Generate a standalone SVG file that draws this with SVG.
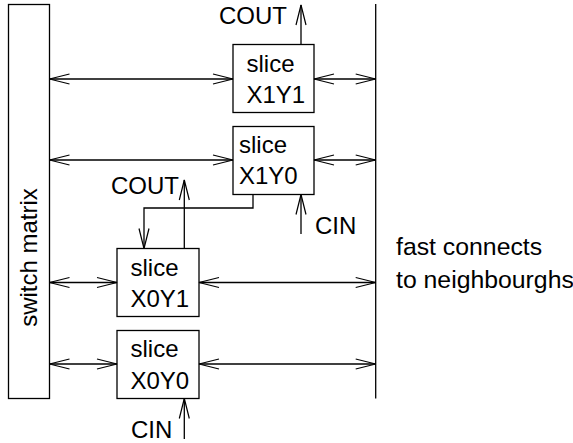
<svg xmlns="http://www.w3.org/2000/svg" width="573" height="443" viewBox="0 0 573 443">
<defs>
<marker id="ah" markerUnits="userSpaceOnUse" markerWidth="24" markerHeight="14" viewBox="-22 -7 24 14" refX="0" refY="0" orient="auto-start-reverse">
<path d="M -20 -5 L 0 0 L -20 5" fill="none" stroke="#000" stroke-width="1.2"/>
</marker>
</defs>
<style>
.box{fill:#fff;stroke:#000;stroke-width:1.3}
.ln{fill:none;stroke:#000;stroke-width:1.3}
.bi{marker-start:url(#ah);marker-end:url(#ah)}
.one{marker-end:url(#ah)}
text{font-family:"Liberation Sans",Arial,sans-serif;font-size:24px;fill:#000}
.big{font-size:24.8px}
</style>
<rect width="573" height="443" fill="#fff"/>
<g id="switch-matrix">
<rect class="box" x="8.5" y="4.5" width="41" height="394"/>
<text transform="translate(36.5,257.5) rotate(-90)" text-anchor="middle">switch matrix</text>
</g>
<g id="fast-connects">
<line class="ln" x1="375.7" y1="4" x2="375.7" y2="398.5"/>
<text class="big" x="396" y="255">fast connects</text>
<text class="big" x="396" y="288">to neighbourghs</text>
</g>
<g id="slice-X1Y1">
<rect class="box" x="233" y="44.5" width="81" height="68"/>
<text x="246.5" y="72">slice</text>
<text x="246.5" y="103">X1Y1</text>
</g>
<g id="slice-X1Y0">
<rect class="box" x="233" y="126.5" width="81" height="68"/>
<text x="239" y="153">slice</text>
<text x="239" y="184">X1Y0</text>
</g>
<g id="slice-X0Y1">
<rect class="box" x="117" y="248.5" width="82" height="68"/>
<text x="130.5" y="276">slice</text>
<text x="130.5" y="307">X0Y1</text>
</g>
<g id="slice-X0Y0">
<rect class="box" x="117" y="330.5" width="82" height="68"/>
<text x="130.5" y="357">slice</text>
<text x="130.5" y="389">X0Y0</text>
</g>
<g id="labels">
<text x="219" y="24">COUT</text>
<text x="111" y="194">COUT</text>
<text x="315" y="234">CIN</text>
<text x="131" y="438">CIN</text>
</g>
<g id="connectors">
<line class="ln bi" x1="49.5" y1="79" x2="233" y2="79"/>
<line class="ln bi" x1="314" y1="79" x2="375.7" y2="79"/>
<line class="ln bi" x1="49.5" y1="160" x2="233" y2="160"/>
<line class="ln bi" x1="314" y1="160" x2="375.7" y2="160"/>
<line class="ln bi" x1="49.5" y1="282.5" x2="117" y2="282.5"/>
<line class="ln bi" x1="199" y1="282.5" x2="375.7" y2="282.5"/>
<line class="ln bi" x1="49.5" y1="364" x2="117" y2="364"/>
<line class="ln bi" x1="199" y1="364" x2="375.7" y2="364"/>
<line class="ln one" x1="301" y1="44.5" x2="301" y2="5"/>
<line class="ln one" x1="184.3" y1="248.5" x2="184.3" y2="180"/>
<path class="ln one" d="M 253 194.5 V 208 H 144 V 248.5"/>
<line class="ln one" x1="301" y1="234" x2="301" y2="194.5"/>
<line class="ln one" x1="184.3" y1="439" x2="184.3" y2="398.5"/>
</g>
</svg>
